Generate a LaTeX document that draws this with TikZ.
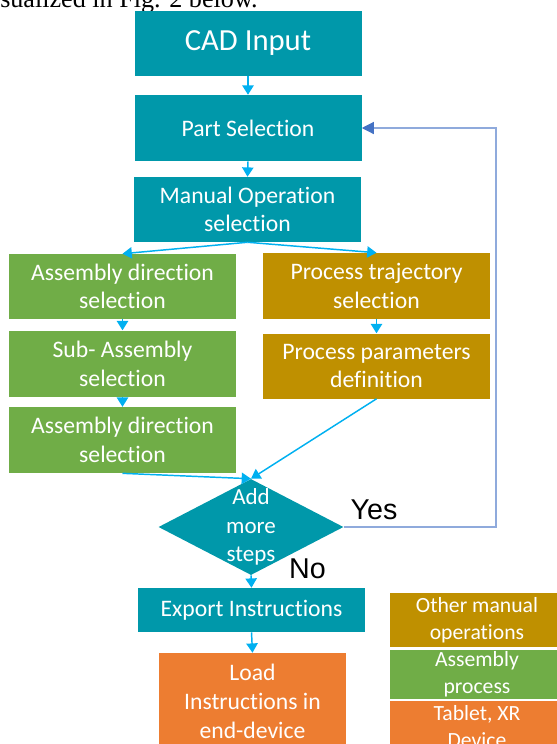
\documentclass[tikz,border=0pt]{standalone}
\usepackage{fontspec}
\setmainfont{Carlito}[Ligatures=NoCommon]
\newfontfamily\arialfont{Liberation Sans}
\newfontfamily\timesfont{Liberation Serif}
\usetikzlibrary{shapes.geometric,arrows.meta,positioning}

\definecolor{cadteal}{RGB}{0,152,170}
\definecolor{asmgreen}{RGB}{112,173,71}
\definecolor{opgold}{RGB}{191,144,0}
\definecolor{devorange}{RGB}{237,125,49}
\definecolor{flowblue}{RGB}{0,176,240}
\definecolor{loopblue}{RGB}{143,170,220}
\definecolor{loophead}{RGB}{68,114,196}

\begin{document}
\begin{tikzpicture}[x=0.75pt, y=-0.75pt]

        \tikzstyle{block} = [rectangle, text=white, align=center, inner sep=0pt, minimum width=170.25pt, font=\fontsize{17.75}{21.5}\selectfont]
        \tikzstyle{legend} = [block, minimum width=130.5pt, font=\fontsize{16.25}{20.25}\selectfont]
        \tikzstyle{flow} = [draw=flowblue, line width=1.1pt, -{Triangle[length=7pt,width=8.5pt]}]
        \tikzstyle{loop} = [draw=loopblue, line width=0.9pt, -{Triangle[length=9pt,width=9pt,color=loophead]}]
        \tikzstyle{answer} = [anchor=base, inner sep=0pt, font=\arialfont\fontsize{21.5}{24}\selectfont]

        \useasboundingbox (0,0) rectangle (557,744);

        % tail of the text line above the figure
        \node [anchor=base west, inner sep=0pt, font=\timesfont\fontsize{19.6}{22}\selectfont] (caption) at (0,7) {sualized in Fig. 2 below.};

        % main column
        \node [block, fill=cadteal, minimum height=48.75pt, font=\fontsize{23}{26}\selectfont] (cad) at (248,43.5) {CAD Input};
        \node [block, fill=cadteal, minimum height=49.5pt] (part) at (248,128) {Part Selection};
        \node [block, fill=cadteal, minimum height=48.75pt] (manual) at (247.5,209.5) {Manual Operation\\selection};

        % assembly branch
        \node [block, fill=asmgreen, minimum height=48.75pt] (asm1) at (122.5,286.5) {Assembly direction\\selection};
        \node [block, fill=asmgreen, minimum height=49.5pt, below=8.25pt of asm1] (sub) {Sub- Assembly\\selection};
        \node [block, fill=asmgreen, minimum height=49.5pt, below=7.5pt of sub] (asm2) {Assembly direction\\selection};

        % other manual operations branch
        \node [block, fill=opgold, minimum height=49.5pt] (traj) at (376.5,286) {Process trajectory\\selection};
        \node [block, fill=opgold, minimum height=48.75pt, below=10.5pt of traj] (param) {Process parameters\\definition};

        \node [diamond, fill=cadteal, text=white, align=center, inner sep=-4pt, aspect=1.93, minimum width=138.75pt, minimum height=72pt, font=\fontsize{17.25}{21.4}\selectfont] (more) at (251,527) {Add\\more\\steps};

        \node [block, fill=cadteal, minimum height=33pt] (export) at (251.5,610) {Export Instructions};
        \node [block, fill=devorange, minimum width=140.25pt, minimum height=72.75pt] (load) at (252.5,701.5) {Load\\Instructions in\\end-device};

        % colour legend
        \node [legend, fill=opgold, minimum height=40.5pt] (legop) at (477,620) {Other manual\\operations};
        \node [legend, fill=asmgreen, minimum height=36.75pt, below=1.5pt of legop] (legasm) {Assembly\\process};
        \node [legend, fill=devorange, minimum height=37.5pt, below=1.5pt of legasm] (legdev) {Tablet, XR\\Device};

        \node [answer] (yes) at (374,519) {Yes};
        \node [answer] (no) at (307.5,578) {No};

        \draw [flow] (cad.south) -- (part.north);
        \draw [flow] (part.south) -- (manual.north);
        \draw [flow] (manual.south) -- (asm1.north);
        \draw [flow] (manual.south) -- (traj.north);
        \draw [flow] (asm1.south) -- (sub.north);
        \draw [flow] (sub.south) -- (asm2.north);
        \draw [flow] (traj.south) -- (param.north);
        \draw [flow] (asm2.south) -- (more.north);
        \draw [flow] (param.south) -- (more.north);
        \draw [flow] (more.south) -- (export.north);
        \draw [flow] (export.south) -- (load.north);

        \coordinate (back) at (496,128);
        \draw [loop] (more.east) -| (back) -- (part.east);

    \end{tikzpicture}
\end{document}
